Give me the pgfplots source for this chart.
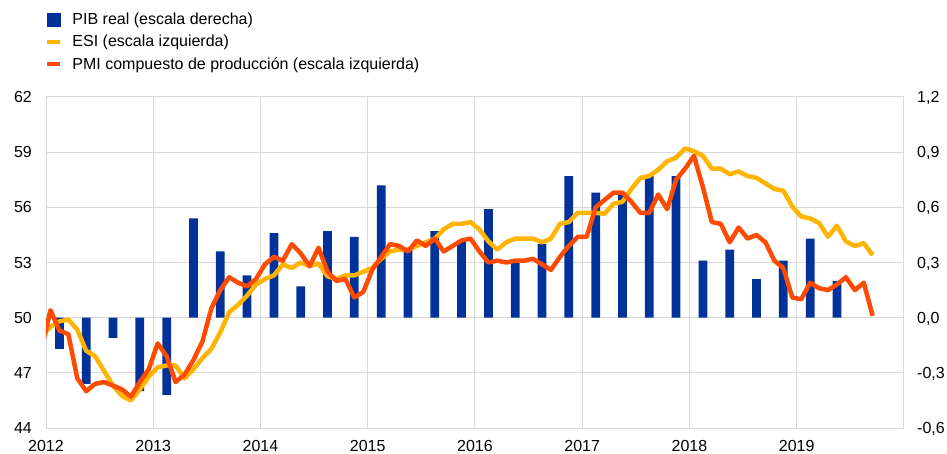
\documentclass[border=0pt]{standalone}
\usepackage{pgfplots}
\pgfplotsset{compat=1.18}
\usepackage{pgfplotstable}
\usepackage{fontspec}
\setmainfont{Liberation Sans}
\definecolor{ecbblue}{RGB}{0,50,153}
\definecolor{ecbyellow}{RGB}{255,180,0}
\definecolor{ecborange}{RGB}{255,75,0}
\definecolor{gridgrey}{RGB}{217,217,217}
\pgfkeys{/pgf/number format/assume math mode=true}

% m = month index: 0 = Dec 2011, 1 = Jan 2012, ..., 93 = Sep 2019
\pgfplotstableread{
m esi pmi
0 49.0 48.3
1 49.5 50.4
2 49.8 49.3
3 49.9 49.1
4 49.35 46.7
5 48.2 46.0
6 47.9 46.4
7 47.1 46.5
8 46.3 46.3
9 45.75 46.1
10 45.5 45.7
11 46.1 46.5
12 46.8 47.2
13 47.3 48.6
14 47.4 47.9
15 47.4 46.5
16 46.7 46.9
17 47.2 47.7
18 47.8 48.7
19 48.3 50.5
20 49.2 51.5
21 50.3 52.2
22 50.7 51.9
23 51.2 51.7
24 51.8 52.1
25 52.1 52.9
26 52.3 53.3
27 52.9 53.1
28 52.7 54.0
29 53.0 53.5
30 52.8 52.8
31 52.95 53.8
32 52.25 52.5
33 52.1 52.0
34 52.3 52.1
35 52.3 51.1
36 52.5 51.4
37 52.7 52.6
38 53.2 53.3
39 53.6 54.0
40 53.7 53.9
41 53.7 53.6
42 53.9 54.2
43 54.1 53.9
44 54.3 54.3
45 54.8 53.6
46 55.1 53.9
47 55.1 54.2
48 55.2 54.3
49 54.8 53.6
50 54.15 53.0
51 53.7 53.1
52 54.1 53.0
53 54.3 53.1
54 54.3 53.1
55 54.3 53.2
56 54.1 52.9
57 54.3 52.6
58 55.1 53.3
59 55.2 53.9
60 55.7 54.4
61 55.7 54.4
62 55.7 56.0
63 55.65 56.4
64 56.2 56.8
65 56.3 56.8
66 57.0 56.3
67 57.6 55.7
68 57.7 55.7
69 58.05 56.7
70 58.5 55.9
71 58.7 57.5
72 59.2 58.1
73 59.05 58.8
74 58.8 57.1
75 58.1 55.2
76 58.1 55.1
77 57.8 54.1
78 57.95 54.9
79 57.7 54.3
80 57.6 54.5
81 57.3 54.1
82 57.0 53.1
83 56.9 52.7
84 56.05 51.1
85 55.5 51.0
86 55.4 51.9
87 55.15 51.6
88 54.4 51.5
89 55.0 51.8
90 54.15 52.2
91 53.9 51.5
92 54.05 51.9
93 53.4 50.1
}\monthly

\pgfplotstableread{
t gdp
2012.125 -0.17
2012.375 -0.36
2012.625 -0.11
2012.875 -0.40
2013.125 -0.42
2013.375 0.54
2013.625 0.36
2013.875 0.23
2014.125 0.46
2014.375 0.17
2014.625 0.47
2014.875 0.44
2015.125 0.72
2015.375 0.37
2015.625 0.47
2015.875 0.42
2016.125 0.59
2016.375 0.31
2016.625 0.40
2016.875 0.77
2017.125 0.68
2017.375 0.68
2017.625 0.77
2017.875 0.77
2018.125 0.31
2018.375 0.37
2018.625 0.21
2018.875 0.31
2019.125 0.43
2019.375 0.20
}\quarterly

\begin{document}
\begin{tikzpicture}[font=\fontsize{16bp}{19bp}\selectfont]
\useasboundingbox (-46bp,-26bp) rectangle (901bp,428bp);
\begin{axis}[
  at={(0,0)}, anchor=south west,
  scale only axis, width=858bp, height=331bp,
  xmin=2012, xmax=2020, ymin=-0.6, ymax=1.2,
  xtick={2012,2013,2014,2015,2016,2017,2018,2019},
  xticklabels={2012,2013,2014,2015,2016,2017,2018,2019},
  ytick={-0.6,-0.3,0,0.3,0.6,0.9,1.2},
  yticklabel pos=right,
  grid=major,
  major grid style={draw=gridgrey, line width=1bp},
  axis line style={draw=gridgrey, line width=1bp},
  tick style={draw=none},
  tick label style={font=\fontsize{16bp}{19bp}\selectfont},
  yticklabel style={/pgf/number format/.cd, fixed, fixed zerofill, precision=1, use comma, /tikz/.cd, anchor=west, inner sep=0pt, text depth=0pt, xshift=13bp},
  xticklabel style={anchor=north, inner sep=0pt, text depth=0pt, yshift=-12bp},
]
\addplot[ybar, bar width=8.7bp, bar shift=0pt, fill=ecbblue, draw=none] table[x=t, y=gdp]{\quarterly};
\end{axis}
\begin{axis}[
  at={(0,0)}, anchor=south west,
  scale only axis, width=858bp, height=331bp,
  xmin=2012, xmax=2020, ymin=44, ymax=62,
  xtick=\empty,
  ytick={44,47,50,53,56,59,62},
  axis line style={draw=none},
  tick style={draw=none},
  tick label style={font=\fontsize{16bp}{19bp}\selectfont},
  yticklabel style={anchor=east, inner sep=0pt, xshift=-14bp},
  legend cell align=left,
  legend style={at={(-0.0012,1.254)}, anchor=north west, draw=none, fill=none,
    inner sep=0pt, outer sep=0pt, row sep=9bp, column sep=10bp,
    font=\fontsize{16bp}{19bp}\selectfont, nodes={inner sep=0pt}},
]
\addlegendimage{legend image code/.code={\fill[ecbblue] (0bp,-6.5bp) rectangle (13bp,6.5bp);}}
\addlegendentry{PIB real (escala derecha)}
\addplot[ecbyellow, line width=4.5bp, line join=round,
  legend image code/.code={\draw[ecbyellow, line width=4.5bp] (0bp,0bp) -- (13bp,0bp);}]
  table[x expr={2012+(\thisrow{m}-0.5)/12}, y=esi]{\monthly};
\addlegendentry{ESI (escala izquierda)}
\addplot[ecborange, line width=4.5bp, line join=round,
  legend image code/.code={\draw[ecborange, line width=4.5bp] (0bp,0bp) -- (13bp,0bp);}]
  table[x expr={2012+(\thisrow{m}-0.5)/12}, y=pmi]{\monthly};
\addlegendentry{PMI compuesto de producción (escala izquierda)}
\end{axis}
\end{tikzpicture}
\end{document}
